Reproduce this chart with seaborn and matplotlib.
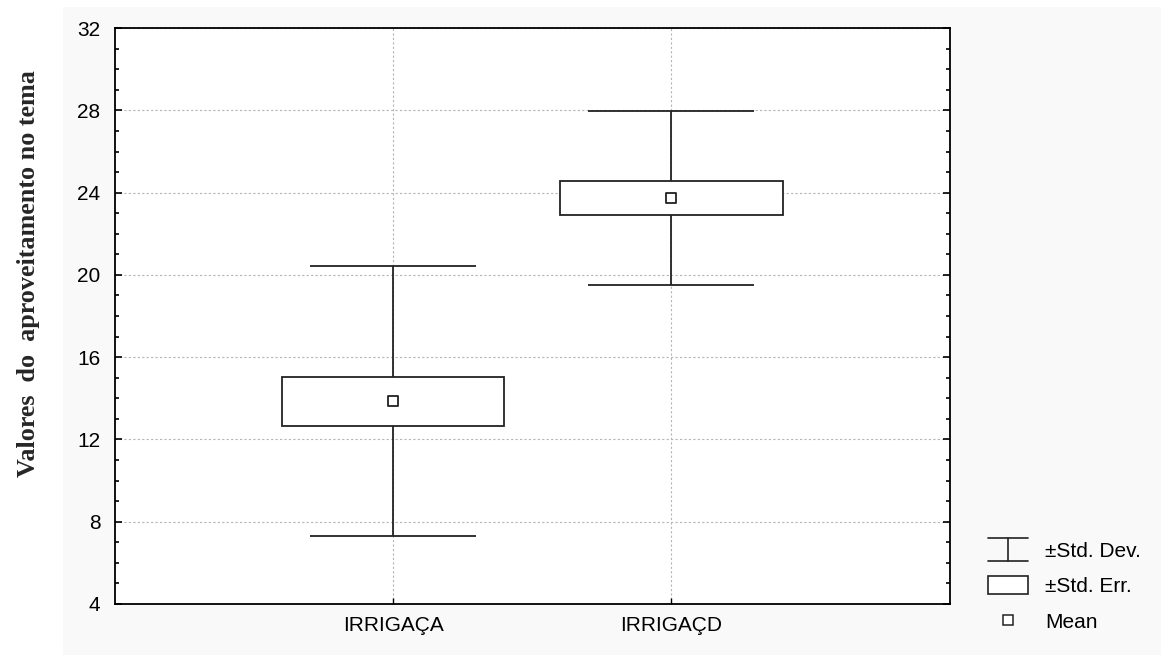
import numpy as np
import pandas as pd
import matplotlib
matplotlib.use('Agg')
import matplotlib.pyplot as plt
import seaborn as sns
from matplotlib.patches import Rectangle, Patch
from matplotlib.lines import Line2D
from matplotlib.legend_handler import HandlerBase
from matplotlib.ticker import MultipleLocator

# ---data---
groups = ['IRRIGAÇA', 'IRRIGAÇD']
means = [13.85, 23.75]
std_err = [1.19, 0.84]
std_dev = [6.56, 4.24]

df = pd.DataFrame({'group': groups, 'mean': means, 'se': std_err, 'sd': std_dev})

#---style---
sns.set_style('white')
plt.rcParams['font.family'] = ['Liberation Sans', 'DejaVu Sans']
plt.rcParams['text.color'] = 'black'
plt.rcParams['xtick.color'] = 'black'
plt.rcParams['ytick.color'] = 'black'

fig = plt.figure(figsize=(11.61, 6.55), dpi=100, facecolor='white')
# light panel behind the plot
fig.add_artist(Rectangle((0.054, 0.0), 0.946, 0.989, transform=fig.transFigure,
                         facecolor='#f9f9f9', edgecolor='none', zorder=-10))
ax = fig.add_axes([0.099, 0.078, 0.719, 0.879])
ax.set_facecolor('white')

# - sd whiskers
ax.errorbar(df['group'], df['mean'], yerr=df['sd'], fmt='none', ecolor='#222222',
            elinewidth=1.3, capsize=60, capthick=1.3, zorder=2)
# - se boxes
ax.bar(df['group'], 2 * df['se'], bottom=df['mean'] - df['se'], width=0.8,
       facecolor='white', edgecolor='#222222', linewidth=1.3, zorder=3)
# - means
sns.scatterplot(data=df, x='group', y='mean', marker='s', s=55, color='white',
                edgecolor='#222222', linewidth=1.3, zorder=4, ax=ax)

ax.set_xlim(-1, 2)
ax.set_ylim(4, 32)
ax.yaxis.set_major_locator(MultipleLocator(4))
ax.yaxis.set_minor_locator(MultipleLocator(1))
ax.grid(True, which='major', color='#b5b5b5', linestyle=(0, (2, 2)), linewidth=0.8)
ax.set_axisbelow(True)
for s in ax.spines.values():
    s.set_color('black')
    s.set_linewidth(1.3)
ax.tick_params(axis='y', which='both', direction='in', left=True, right=True,
               labelsize=15, pad=10.5)
ax.tick_params(axis='y', which='major', length=5, width=1.2)
ax.tick_params(axis='y', which='minor', length=3, width=1.2)
ax.tick_params(axis='x', direction='in', bottom=True, length=4, width=1, labelsize=15, pad=9)
ax.set_xlabel('')
ax.set_ylabel('Valores  do  aproveitamento no tema', family=['Liberation Serif'],
              fontweight='bold', fontsize=18.8)
ax.yaxis.label.set_verticalalignment('center')
ax.yaxis.set_label_coords(-0.104, 0.573)


class IBeamHandler(HandlerBase):
    def create_artists(self, legend, orig_handle, xdescent, ydescent, width, height, fontsize, trans):
        x0, x1 = -xdescent, -xdescent + width
        xm = (x0 + x1) / 2
        y0, y1 = -ydescent - 0.15 * height, -ydescent + 1.15 * height
        kw = dict(color='#222222', linewidth=1.2, transform=trans)
        return [Line2D([x0, x1], [y1, y1], **kw), Line2D([x0, x1], [y0, y0], **kw),
                Line2D([xm, xm], [y0, y1], **kw)]


h_sd = Line2D([], [])
h_se = Patch(facecolor='white', edgecolor='#222222', linewidth=1.2)
h_mean = Line2D([], [], marker='s', linestyle='none', markersize=6.5, markerfacecolor='white',
                markeredgecolor='#222222', markeredgewidth=1.1)
fig.legend([h_sd, h_se, h_mean], ['±Std. Dev.', '±Std. Err.', 'Mean'],
           handler_map={h_sd: IBeamHandler()}, loc='center left',
           bbox_to_anchor=(0.835, 0.105), frameon=False, fontsize=15,
           handlelength=1.92, handleheight=0.9, handletextpad=0.8, labelspacing=0.75)

plt.savefig('out.png', dpi=100, facecolor='white')
